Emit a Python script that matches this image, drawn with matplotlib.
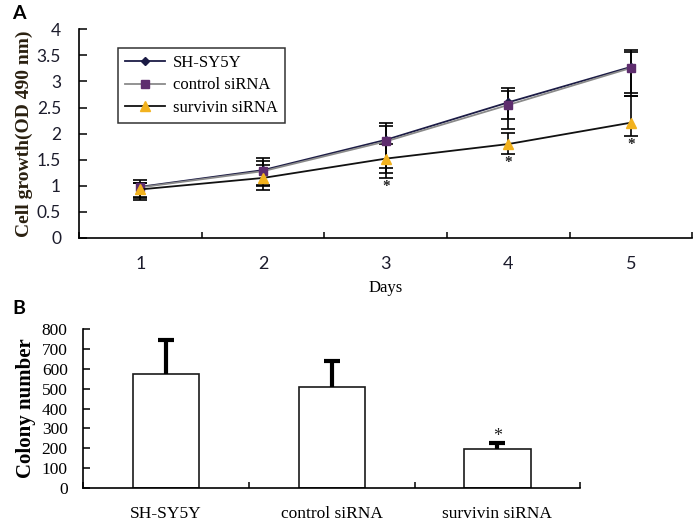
import matplotlib
matplotlib.use("Agg")
import matplotlib.pyplot as plt
import numpy as np

# ---- Data: panel A (cell growth, OD 490 nm) ----
days = [1, 2, 3, 4, 5]
series_names = ["SH-SY5Y", "control siRNA", "survivin siRNA"]
sh_mean = [0.98, 1.30, 1.88, 2.60, 3.28]
ctrl_mean = [0.97, 1.28, 1.85, 2.55, 3.26]
surv_mean = [0.93, 1.15, 1.52, 1.80, 2.21]
# error bar ends (lower, upper)
sh_low = [0.79, 1.02, 1.34, 2.28, 2.78]
sh_high = [1.11, 1.53, 2.21, 2.87, 3.61]
ctrl_low = [0.76, 1.00, 1.24, 2.09, 2.72]
ctrl_high = [1.06, 1.48, 2.15, 2.81, 3.56]
surv_low = [0.73, 0.91, 1.15, 1.61, 1.96]
surv_high = [1.06, 1.40, 1.80, 2.01, 2.72]
signif_days = [3, 4, 5]

# ---- Data: panel B (colony number) ----
groups = ["SH-SY5Y", "control siRNA", "survivin siRNA"]
colony = [573, 506, 198]
colony_err = [171, 134, 27]
colony_signif = [False, False, True]

serif = ["Liberation Serif", "DejaVu Serif"]
sans = ["Lato", "DejaVu Sans"]

fig = plt.figure(figsize=(7.0, 5.24), dpi=100)

# ================= Panel A =================
axA = fig.add_axes([0.113, 0.546, 0.876, 0.398])
styles = [
    dict(line="#1b1b45", mk="D", mc="#1b1b45", ms=4),
    dict(line="#8a8a8a", mk="s", mc="#5e2d6e", ms=5.5),
    dict(line="#111111", mk="^", mc="#f2b21e", ms=6.5),
]
means = [sh_mean, ctrl_mean, surv_mean]
lows = [sh_low, ctrl_low, surv_low]
highs = [sh_high, ctrl_high, surv_high]
x = np.array(days)
for m, lo, hi in zip(means, lows, highs):
    m = np.array(m)
    yerr = np.vstack([m - np.array(lo), np.array(hi) - m])
    axA.errorbar(x, m, yerr=yerr, fmt="none", ecolor="black",
                 elinewidth=1.2, capsize=5, capthick=1.2, zorder=2)
for name, m, st in zip(series_names, means, styles):
    axA.plot(x, m, color=st["line"], lw=1.3, marker=st["mk"],
             markerfacecolor=st["mc"], markeredgecolor=st["mc"],
             markersize=st["ms"], label=name, zorder=3)
for d in signif_days:
    i = days.index(d)
    axA.text(d, surv_low[i] - 0.17, "*", ha="center", va="center",
             fontsize=11, fontweight="bold", family=serif, color="#222222")

axA.set_xlim(0.5, 5.5)
axA.set_ylim(0, 4)
axA.set_yticks(np.arange(0, 4.01, 0.5))
axA.set_yticklabels(["0", "0.5", "1", "1.5", "2", "2.5", "3", "3.5", "4"])
axA.set_xticks(days)
axA.set_xticks(np.arange(0.5, 5.6, 1.0), minor=True)
axA.tick_params(axis="x", which="major", length=0, pad=13, labelsize=13,
                labelcolor="#1c1c2c")
axA.tick_params(axis="x", which="minor", direction="in", length=4, width=1.1)
axA.tick_params(axis="y", direction="in", length=6, width=1.1, pad=13,
                labelsize=12.5, labelcolor="#1c1c2c")
for lab in axA.get_xticklabels() + axA.get_yticklabels():
    lab.set_family(sans)
for s in ["top", "right"]:
    axA.spines[s].set_visible(False)
for s in ["left", "bottom"]:
    axA.spines[s].set_linewidth(1.2)
axA.set_xlabel("Days", family=serif, fontsize=12, labelpad=6)
axA.set_ylabel("Cell growth(OD 490 nm)", family=serif, fontsize=14,
               fontweight="bold", color="#2a2010", labelpad=3)
leg = axA.legend(loc="upper left", bbox_to_anchor=(0.05, 0.95),
                 prop={"family": serif, "size": 12}, frameon=True,
                 fancybox=False, edgecolor="black", handlelength=2.4,
                 labelspacing=0.4, borderpad=0.4, handletextpad=0.5)
leg.get_frame().set_linewidth(1.1)

# ================= Panel B =================
axB = fig.add_axes([0.1186, 0.0687, 0.7104, 0.3033])
xb = np.arange(1, len(groups) + 1)
axB.bar(xb, colony, width=0.4, color="white", edgecolor="#1a1a1a",
        linewidth=1.2, zorder=2)
eb = axB.errorbar(xb, colony, yerr=[np.zeros(len(colony)), colony_err],
                  fmt="none", ecolor="black", elinewidth=3, capsize=6,
                  capthick=3, zorder=3)
# keep only the upper caps
eb[1][0].set_visible(False)
for xi, v, e, sg in zip(xb, colony, colony_err, colony_signif):
    if sg:
        axB.text(xi, v + e + 32, "*", ha="center", va="center",
                 fontsize=13, family=serif, color="#222222")
axB.set_xlim(0.5, 3.5)
axB.set_ylim(0, 800)
axB.set_yticks(np.arange(0, 801, 100))
axB.set_xticks(xb)
axB.set_xticklabels(groups)
axB.set_xticks(np.arange(0.5, 3.6, 1.0), minor=True)
axB.tick_params(axis="x", which="major", length=0, pad=13, labelsize=12.5)
axB.tick_params(axis="x", which="minor", direction="in", length=4, width=1.1)
axB.tick_params(axis="y", direction="in", length=5, width=1.1, pad=11,
                labelsize=12.5)
for lab in axB.get_xticklabels() + axB.get_yticklabels():
    lab.set_family(serif)
for s in ["top", "right"]:
    axB.spines[s].set_visible(False)
for s in ["left", "bottom"]:
    axB.spines[s].set_linewidth(1.2)
axB.set_ylabel("Colony number", family=serif, fontsize=15,
               fontweight="bold", labelpad=4)

# panel letters
fig.text(0.018, 0.975, "A", family=sans, fontsize=14, fontweight="bold",
         va="center", ha="left")
fig.text(0.017, 0.412, "B", family=sans, fontsize=14, fontweight="bold",
         va="center", ha="left")

fig.savefig("out.png", dpi=100)
